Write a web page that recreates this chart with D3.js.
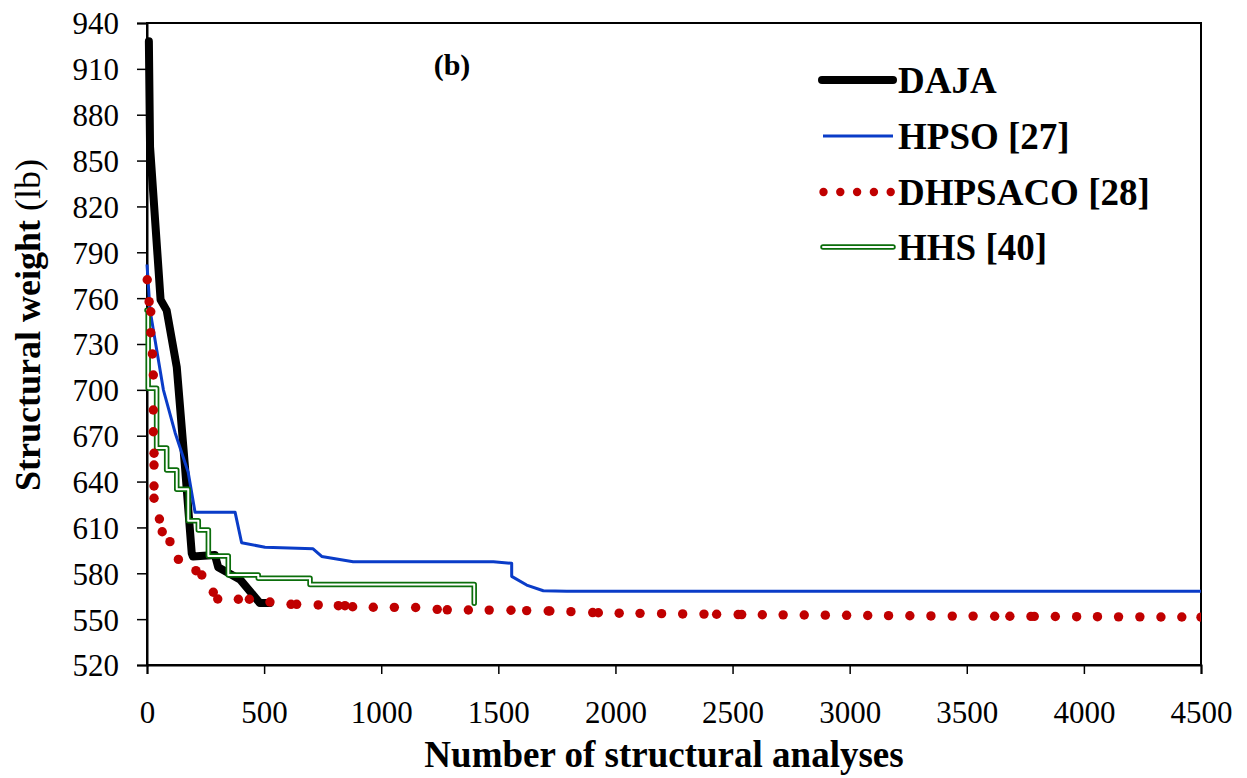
<!DOCTYPE html>
<html>
<head>
<meta charset="utf-8">
<script src="https://cdn.jsdelivr.net/npm/d3@7"></script>
<style>
  body { margin: 0; background: #fff; }
  svg { display: block; font-family: "Liberation Serif", "Times New Roman", serif; }
</style>
</head>
<body>
<div id="chart"></div>
<script>
const WIDTH = 1247;
const HEIGHT = 778;
const margin = { left: 147, right: 46, top: 23, bottom: 113 };

const xTicks = [0, 500, 1000, 1500, 2000, 2500, 3000, 3500, 4000, 4500];
const yTicks = [520, 550, 580, 610, 640, 670, 700, 730, 760, 790, 820, 850, 880, 910, 940];
const seriesNames = ['DAJA', 'HPSO [27]', 'DHPSACO [28]', 'HHS [40]'];

// [analyses, weight]
const daja = [[8, 928], [13, 859], [58, 759], [84, 752], [127, 715], [162, 650], [191, 593],
  [196, 591], [290, 592], [304, 584], [397, 576], [482, 560.5], [525, 560.5]];

const hpso = [[0, 782], [13, 752], [70, 700], [120, 672], [176, 646], [205, 620], [376, 620],
  [404, 600], [504, 597], [709, 596], [746, 591], [880, 587.5], [1479, 587.5], [1557, 586.5],
  [1557, 578], [1621, 572.3], [1692, 568.6], [1792, 568.3], [4500, 568.3]];

// stepwise history
const hhs = [[0, 752], [5, 701], [41, 662], [84, 647.6], [127, 635], [176, 614.4], [219, 608.3],
  [262, 591.3], [347, 578.9], [475, 576.7], [696, 572.6], [1397, 560.4]];

// dots as they appear on the round-dot line
const dhpsaco = [[1, 772], [9, 757.7], [16, 751.1], [16, 737.4], [23, 723.5], [27, 709.7],
  [27, 686.8], [27, 672.6], [30, 658.5], [30, 650.8], [30, 637.1], [30, 629.1], [53, 615.5],
  [65, 607.2], [98, 600.7], [134, 589.1], [209, 581.7], [234, 578.9], [283, 567.6], [302, 563.2],
  [390, 563], [437, 563], [525, 561.2], [615, 559.7], [639, 559.7], [731, 559.3], [817, 558.8],
  [845, 558.8], [878, 558.1], [966, 557.8], [1056, 557.7], [1147, 557.6], [1239, 556.4],
  [1282, 556.1], [1372, 556], [1461, 555.9], [1554, 555.8], [1621, 555.6], [1713, 555.3],
  [1720, 555.3], [1810, 554.9], [1903, 554.3], [1927, 554.2], [2016, 553.9], [2105, 553.8],
  [2197, 553.6], [2287, 553.4], [2378, 553.3], [2432, 553.2], [2524, 553], [2539, 553],
  [2627, 552.9], [2716, 552.8], [2806, 552.7], [2896, 552.6], [2987, 552.5], [3077, 552.4],
  [3166, 552.3], [3257, 552.2], [3347, 552.1], [3438, 552], [3527, 552], [3619, 551.9],
  [3684, 551.9], [3774, 551.8], [3788, 551.8], [3878, 551.7], [3969, 551.6], [4058, 551.6],
  [4148, 551.5], [4239, 551.5], [4329, 551.4], [4418, 551.4], [4500, 551.3]];

const colors = { daja: '#000', hpso: '#0a3cc8', dhpsaco: '#c00000', hhs: '#0b6e0b' };

const svg = d3.select('#chart')
  .append('svg')
    .attr('width', WIDTH)
    .attr('height', HEIGHT);

const x = d3.scaleLinear()
  .domain([0, 4500])
  .range([margin.left, WIDTH - margin.right]);

const y = d3.scaleLinear()
  .domain([520, 940])
  .range([HEIGHT - margin.bottom, margin.top]);

svg.append('clipPath')
  .attr('id', 'plot-clip')
  .append('rect')
    .attr('x', 0)
    .attr('y', 0)
    .attr('width', x(4500))
    .attr('height', HEIGHT);

// frame
svg.append('rect')
  .attr('x', x(0))
  .attr('y', y(940))
  .attr('width', x(4500) - x(0))
  .attr('height', y(520) - y(940))
  .attr('fill', 'none')
  .attr('stroke', '#000')
  .attr('stroke-width', 2);

const yAxis = d3.axisLeft(y).tickValues(yTicks).tickSize(10).tickPadding(18);
svg.append('g')
  .attr('transform', `translate(${x(0)},0)`)
  .call(yAxis)
  .call(g => g.select('.domain').attr('stroke-width', 2))
  .call(g => g.selectAll('.tick line').attr('stroke-width', 1.5))
  .call(g => g.selectAll('.tick text')
    .attr('font-family', '"Liberation Serif", serif')
    .attr('font-size', 31)
    .attr('fill', '#000')
    .attr('dy', '0.35em'));

const xAxis = d3.axisBottom(x).tickValues(xTicks).tickFormat(d3.format('d')).tickSize(9).tickPadding(27);
svg.append('g')
  .attr('transform', `translate(0,${y(520)})`)
  .call(xAxis)
  .call(g => g.select('.domain').attr('stroke-width', 2))
  .call(g => g.selectAll('.tick line').attr('stroke-width', 1.5))
  .call(g => g.selectAll('.tick text')
    .attr('font-family', '"Liberation Serif", serif')
    .attr('font-size', 31)
    .attr('fill', '#000'));

// axis titles
svg.append('text')
  .attr('x', 664)
  .attr('y', 767)
  .attr('text-anchor', 'middle')
  .attr('font-size', 37)
  .attr('font-weight', 'bold')
  .text('Number of structural analyses');

const yTitle = svg.append('text')
  .attr('transform', 'translate(40,325) rotate(-90)')
  .attr('text-anchor', 'middle')
  .attr('font-size', 36);
yTitle.append('tspan').attr('font-weight', 'bold').text('Structural weight ');
yTitle.append('tspan').text('(lb)');

svg.append('text')
  .attr('x', 452)
  .attr('y', 75)
  .attr('text-anchor', 'middle')
  .attr('font-size', 30)
  .attr('font-weight', 'bold')
  .text('(b)');

// series
const line = d3.line().x(d => x(d[0])).y(d => y(d[1]));
const stepLine = d3.line().x(d => x(d[0])).y(d => y(d[1])).curve(d3.curveStepAfter);

const plot = svg.append('g').attr('clip-path', 'url(#plot-clip)');

plot.append('path')
  .datum(daja)
  .attr('d', line)
  .attr('fill', 'none')
  .attr('stroke', colors.daja)
  .attr('stroke-width', 8)
  .attr('stroke-linejoin', 'round')
  .attr('stroke-linecap', 'round');

plot.append('path')
  .datum(hpso)
  .attr('d', line)
  .attr('fill', 'none')
  .attr('stroke', colors.hpso)
  .attr('stroke-width', 3)
  .attr('stroke-linejoin', 'round');

plot.append('path')
  .datum(hhs)
  .attr('d', stepLine)
  .attr('fill', 'none')
  .attr('stroke', colors.hhs)
  .attr('stroke-width', 5.5)
  .attr('stroke-linejoin', 'round')
  .attr('stroke-linecap', 'round');

plot.append('path')
  .datum(hhs)
  .attr('d', stepLine)
  .attr('fill', 'none')
  .attr('stroke', '#fff')
  .attr('stroke-width', 2)
  .attr('stroke-linejoin', 'round')
  .attr('stroke-linecap', 'round');

plot.selectAll('.dot')
  .data(dhpsaco)
  .enter()
    .append('circle')
    .attr('class', 'dot')
    .attr('cx', d => x(d[0]))
    .attr('cy', d => y(d[1]))
    .attr('r', 4.7)
    .attr('fill', colors.dhpsaco);

// legend
const legend = svg.append('g').attr('transform', 'translate(822,0)');
const rowY = [80, 136, 192, 247];

legend.append('line')
  .attr('x1', 0).attr('x2', 71).attr('y1', rowY[0]).attr('y2', rowY[0])
  .attr('stroke', colors.daja).attr('stroke-width', 8).attr('stroke-linecap', 'round');

legend.append('line')
  .attr('x1', 1).attr('x2', 71).attr('y1', rowY[1]).attr('y2', rowY[1])
  .attr('stroke', colors.hpso).attr('stroke-width', 3);

legend.selectAll('.ldot')
  .data(d3.range(5))
  .enter()
    .append('circle')
    .attr('cx', i => 1.5 + i * 16.8)
    .attr('cy', rowY[2])
    .attr('r', 4.2)
    .attr('fill', colors.dhpsaco);

legend.append('line')
  .attr('x1', 1).attr('x2', 71).attr('y1', rowY[3]).attr('y2', rowY[3])
  .attr('stroke', colors.hhs).attr('stroke-width', 5.5).attr('stroke-linecap', 'round');
legend.append('line')
  .attr('x1', 1).attr('x2', 71).attr('y1', rowY[3]).attr('y2', rowY[3])
  .attr('stroke', '#fff').attr('stroke-width', 2).attr('stroke-linecap', 'round');

legend.selectAll('.ltext')
  .data(seriesNames)
  .enter()
    .append('text')
    .attr('x', 76)
    .attr('y', (d, i) => rowY[i] + 13)
    .attr('font-size', 37)
    .attr('font-weight', 'bold')
    .text(d => d);
</script>
</body>
</html>
